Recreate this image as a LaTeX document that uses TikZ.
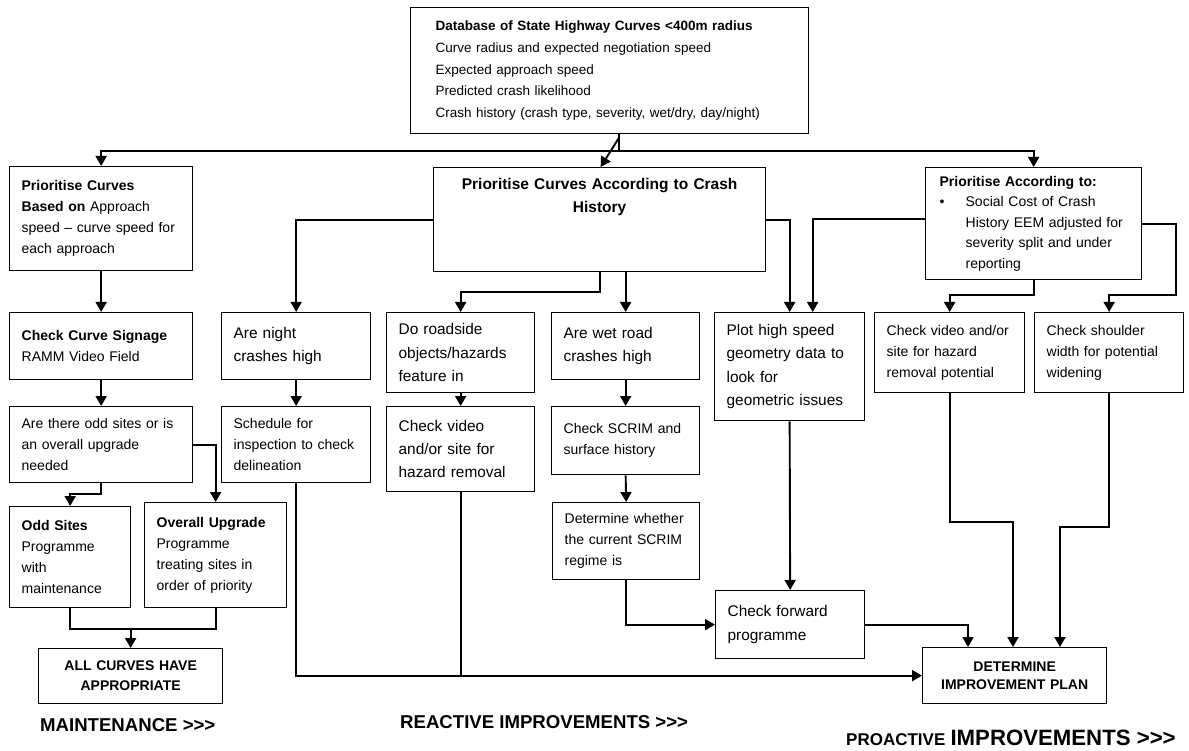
\documentclass[tikz,border=0pt]{standalone}
\usepackage{fontspec}
\setmainfont{Liberation Sans}
\usepackage{tikz}
\usetikzlibrary{arrows.meta}
\usetikzlibrary{calc}
\tikzset{
  box/.style={draw, line width=1.3pt, anchor=north west, inner xsep=12pt, inner ysep=4pt, align=left, font=\fontsize{14}{21}\selectfont},
  big/.style={font=\fontsize{15.4}{23.3}\selectfont},
  link/.style={line width=1.9pt},
  arr/.style={link, -{Triangle[width=11pt,length=10pt]}},
  stage/.style={anchor=west, inner sep=0pt, font=\bfseries\fontsize{18.6}{23}\selectfont},
}

\begin{document}
\begin{tikzpicture}[x=1pt, y=-1pt]
        \useasboundingbox (0,0) rectangle (1189,751);

        \node[box, inner xsep=25pt, minimum width=398pt, minimum height=126pt, text width=348pt, font=\fontsize{13.5}{21.7}\selectfont] (db) at (410,7) {\textbf{Database of State Highway Curves <400m radius}\\Curve radius and expected negotiation speed\\Expected approach speed\\Predicted crash likelihood\\Crash history (crash type, severity, wet/dry, day/night)};

        \node[box, minimum width=183pt, minimum height=104pt, text width=159pt] (pcb) at (9,166) {\textbf{Prioritise Curves}\\\textbf{Based on} Approach\\speed -- curve speed for\\each approach};
        \node[box, align=center, minimum width=332pt, minimum height=104pt, text width=308pt, inner ysep=8pt, text height=14pt, text depth=74pt, font=\bfseries\fontsize{15.5}{23}\selectfont] (pch) at (433,167) {Prioritise Curves According to Crash\\History};
        \node[box, inner xsep=14pt, minimum width=216pt, minimum height=112pt, text width=188pt, font=\fontsize{14}{20.5}\selectfont] (pac) at (925,167) {\textbf{Prioritise According to:}\\\makebox[26pt][l]{\textbullet}\parbox[t]{160pt}{Social Cost of Crash\\History EEM adjusted for\\severity split and under\\reporting}};

        \node[box, minimum width=183pt, minimum height=67pt, text width=159pt] (csg) at (9,312) {\textbf{Check Curve Signage}\\RAMM Video Field};
        \node[box, minimum width=183pt, minimum height=76pt, text width=159pt] (odd) at (9,406) {Are there odd sites or is\\an overall upgrade\\needed};
        \node[box, minimum width=121pt, minimum height=101pt, text width=97pt] (oddsites) at (9,506) {\textbf{Odd Sites}\\Programme\\with\\maintenance};
        \node[box, minimum width=142pt, minimum height=105pt, text width=118pt] (upgrade) at (144,502) {\textbf{Overall Upgrade}\\Programme\\treating sites in\\order of priority};
        \node[box, align=center, minimum width=184pt, minimum height=55pt, text width=160pt, font=\bfseries\fontsize{14}{20}\selectfont] (allc) at (38,648) {ALL CURVES HAVE\\APPROPRIATE};

        \node[box, big, minimum width=149pt, minimum height=67pt, text width=125pt] (night) at (221,312) {Are night\\crashes high};
        \node[box, minimum width=149pt, minimum height=76pt, text width=125pt] (sched) at (221,406) {Schedule for\\inspection to check\\delineation};
        \node[box, big, minimum width=148pt, minimum height=80pt, text width=124pt] (road) at (386,312) {Do roadside\\objects/hazards\\feature in};
        \node[box, big, minimum width=148pt, minimum height=85pt, text width=124pt] (hazv) at (386,406) {Check video\\and/or site for\\hazard removal};
        \node[box, big, minimum width=148pt, minimum height=67pt, text width=124pt] (wet) at (551,312) {Are wet road\\crashes high};
        \node[box, minimum width=148pt, minimum height=68pt, text width=124pt] (scrim) at (551,406) {Check SCRIM and\\surface history};
        \node[box, minimum width=147pt, minimum height=77pt, text width=123pt] (detw) at (552,502) {Determine whether\\the current SCRIM\\regime is};
        \node[box, big, minimum width=150pt, minimum height=108pt, text width=126pt] (plot) at (714,312) {Plot high speed\\geometry data to\\look for\\geometric issues};
        \node[box, big, minimum width=149pt, minimum height=68pt, text width=125pt] (cfp) at (715,590) {Check forward\\programme};
        \node[box, minimum width=150pt, minimum height=80pt, text width=126pt] (hvp) at (874,312) {Check video and/or\\site for hazard\\removal potential};
        \node[box, minimum width=149pt, minimum height=80pt, text width=125pt] (shw) at (1034,312) {Check shoulder\\width for potential\\widening};
        \node[box, align=center, minimum width=184pt, minimum height=56pt, text width=160pt, font=\bfseries\fontsize{14}{18.3}\selectfont] (dip) at (922,647) {DETERMINE\\IMPROVEMENT PLAN};

        \node[stage] (mnt) at (40,725) {MAINTENANCE >{}>{}>};
        \node[stage] (rea) at (400,722) {REACTIVE IMPROVEMENTS >{}>{}>};
        \node[stage] (pro) at (846,738) {{\fontsize{17}{20}\selectfont PROACTIVE} {\fontsize{22.2}{26}\selectfont IMPROVEMENTS >{}>{}>}};

        \coordinate (split) at ([xshift=9pt]db.south);
        \coordinate (bus) at ([yshift=-17pt]split);
        \draw[link] (split) -- (bus);
        \draw[arr] (bus) -| (pcb.north);
        \draw[arr] (bus) -| (pac.north);
        \draw[arr] ([yshift=-4pt]split) -- ([xshift=1pt]pch.north);

        \draw[arr] (pcb.south) -- (csg.north);
        \draw[arr] (csg.south) -- (odd.north);
        \draw[arr] (odd.south) -- ++(0,11) -| (oddsites.north);
        \draw[arr] (odd.east) -| (upgrade.north);
        \draw[link] (oddsites.south) -- ++(0,21) coordinate (mrg) -| (upgrade.south);
        \draw[arr] (mrg -| allc.north) -- (allc.north);

        \draw[arr] (pch.west) -| (night.north);
        \draw[arr] (night.south) -- (sched.north);
        \draw[arr] (sched.south) |- (dip.west);
        \draw[arr] (pch.south) -- ++(0,20) -| (road.north);
        \draw[arr] (road.south) -- (hazv.north);
        \draw[link] (hazv.south) -- (hazv.south |- dip.west);
        \draw[arr] (pch.south -| wet.north) -- (wet.north);
        \draw[arr] (wet.south) -- (scrim.north);
        \draw[arr] (scrim.south) -- (detw.north);
        \draw[arr] (detw.south) |- (cfp.west);
        \draw[arr] (pch.east) -| (plot.north);
        \draw[arr] ([yshift=5pt]pac.west) -| ([xshift=23pt]plot.north);
        \draw[arr] (plot.south) -- (cfp.north);
        \draw[arr] (cfp.east) -| ([xshift=46pt]dip.north west);

        \coordinate (pacb) at ([yshift=-15pt]pac.south);
        \draw[arr] (pac.south) -- (pacb) -| (hvp.north);
        \draw[arr] (pac.east) -- ++(34,0) |- (pacb -| shw.north) -- (shw.north);
        \draw[arr] (hvp.south) -- ++(0,129) -| ([xshift=91pt]dip.north west);
        \draw[arr] (shw.south) -- ++(0,134) -| ([xshift=138pt]dip.north west);
\end{tikzpicture}
\end{document}
